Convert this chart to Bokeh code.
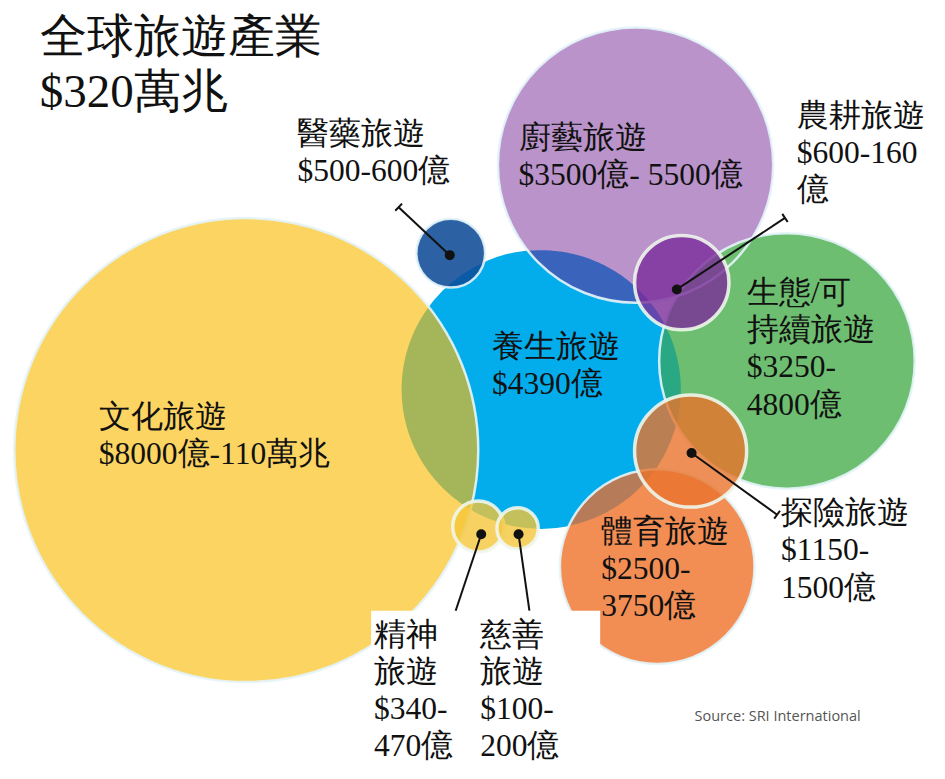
import numpy as np
from bokeh.plotting import figure
from bokeh.models import Range1d, ColumnDataSource
from bokeh.core.properties import value
from bokeh.embed import file_html
from bokeh.resources import INLINE

# ---------------- data ----------------
title_lines = ["全球旅遊產業", "$320萬兆"]
categories = ["文化旅遊", "養生旅遊", "廚藝旅遊", "生態/可持續旅遊", "體育旅遊",
              "醫藥旅遊", "農耕旅遊", "探險旅遊", "精神旅遊", "慈善旅遊"]
value_labels = ["$8000億-110萬兆", "$4390億", "$3500億- 5500億", "$3250-4800億",
                "$2500-3750億", "$500-600億", "$600-160億", "$1150-1500億",
                "$340-470億", "$100-200億"]
label_lines = [
    ["文化旅遊", "$8000億-110萬兆"],
    ["養生旅遊", "$4390億"],
    ["廚藝旅遊", "$3500億- 5500億"],
    ["生態/可", "持續旅遊", "$3250-", "4800億"],
    ["體育旅遊", "$2500-", "3750億"],
    ["醫藥旅遊", "$500-600億"],
    ["農耕旅遊", "$600-160", "億"],
    ["探險旅遊", "$1150-", "1500億"],
    ["精神", "旅遊", "$340-", "470億"],
    ["慈善", "旅遊", "$100-", "200億"],
]
source_note = "Source: SRI International"

# ---------------- layout (reference pixel space) ----------------
bub_x = [250, 550, 646, 800, 668, 458, 693, 702, 486, 526]
bub_y = [459, 397, 168, 368, 578, 258, 288, 460, 537, 539]
bub_r = [236, 142, 140, 130, 99, 35, 48, 57, 26, 21]
bub_color = ["#FCD462", "#03ADEC", "#B993C9", "#6DBE70", "#F28E54",
             "#2C62A3", "#7A2C9A", "#E8732C", "#F5C539", "#F5C539"]
bub_alpha = [1, 1, 1, 1, 1, 1, 0.8, 0.8, 0.8, 0.8]

label_x = [100, 500, 527, 759, 611, 302, 810, 794, 380, 488]
label_y = [425, 353, 140, 298, 542, 136, 117, 523, 647, 647]
pitch = 38

lead_dot = [(457, 260), (688, 295), (703, 462), (489, 545), (527, 545)]
lead_end = [(405, 211), (798, 222), (790, 525), (463, 623), (538, 623)]
lead_cap = [True, True, True, False, False]

lens_pairs = [(0, 1, "#A5B65A"), (2, 1, "#3A64BC"), (3, 1, "#29A883"),
              (4, 1, "#B67B59"), (5, 1, "#0A5AA6")]

FONT = value("Times New Roman")

W, H = 929, 763
p = figure(width=W, height=H, output_backend="svg", toolbar_location=None,
           x_range=Range1d(0, 945), y_range=Range1d(779, 0),
           x_axis_location=None, y_axis_location=None,
           min_border=0, outline_line_color=None, background_fill_color="white")
p.grid.visible = False


def lens(i, j, n=90):
    x1, y1, r1 = bub_x[i], bub_y[i], bub_r[i]
    x2, y2, r2 = bub_x[j], bub_y[j], bub_r[j]
    dx, dy = x2 - x1, y2 - y1
    d = np.hypot(dx, dy)
    a = (r1 ** 2 - r2 ** 2 + d ** 2) / (2 * d)
    th = np.arctan2(dy, dx)
    a1 = np.arccos(np.clip(a / r1, -1, 1))
    a2 = np.arccos(np.clip((d - a) / r2, -1, 1))
    t1 = np.linspace(th - a1, th + a1, n)
    t2 = np.linspace(th + np.pi - a2, th + np.pi + a2, n)
    xs = np.concatenate([x1 + r1 * np.cos(t1), x2 + r2 * np.cos(t2)])
    ys = np.concatenate([y1 + r1 * np.sin(t1), y2 + r2 * np.sin(t2)])
    return list(xs), list(ys)


order_big = [1, 0, 2, 3, 4, 5]
big = ColumnDataSource(dict(x=[bub_x[i] for i in order_big], y=[bub_y[i] for i in order_big],
                            r=[bub_r[i] for i in order_big], c=[bub_color[i] for i in order_big]))
p.circle("x", "y", radius="r", source=big, fill_color="c", line_color=None)

lx, ly, lc = [], [], []
for i, j, c in lens_pairs:
    xs, ys = lens(i, j)
    lx.append(xs); ly.append(ys); lc.append(c)
p.patches(lx, ly, fill_color=lc, line_color=None)

out_idx = [0, 2, 3, 4, 5]
p.circle([bub_x[i] for i in out_idx], [bub_y[i] for i in out_idx],
         radius=[bub_r[i] for i in out_idx], fill_color=None,
         line_color="#E4F4FA", line_width=2.5, line_alpha=0.9)

small_idx = [6, 7, 8, 9]
small = ColumnDataSource(dict(x=[bub_x[i] for i in small_idx], y=[bub_y[i] for i in small_idx],
                              r=[bub_r[i] for i in small_idx], c=[bub_color[i] for i in small_idx],
                              a=[bub_alpha[i] for i in small_idx]))
p.circle("x", "y", radius="r", source=small, fill_color="c", fill_alpha="a",
         line_color="#EEF6EC", line_width=3.5, line_alpha=0.9)

p.quad(left=[377], right=[610], top=[623], bottom=[800], fill_color="white", line_color=None)

seg_x0, seg_y0, seg_x1, seg_y1 = [], [], [], []
for (dx0, dy0), (ex, ey), cap in zip(lead_dot, lead_end, lead_cap):
    seg_x0.append(dx0); seg_y0.append(dy0); seg_x1.append(ex); seg_y1.append(ey)
    if cap:
        vx, vy = ex - dx0, ey - dy0
        L = np.hypot(vx, vy)
        nx, ny = -vy / L * 5, vx / L * 5
        seg_x0.append(ex - nx); seg_y0.append(ey - ny)
        seg_x1.append(ex + nx); seg_y1.append(ey + ny)
p.segment(seg_x0, seg_y0, seg_x1, seg_y1, line_color="#111111", line_width=2)
p.scatter([d[0] for d in lead_dot], [d[1] for d in lead_dot], size=10,
          fill_color="#111111", line_color=None)

tx, ty, tt = [], [], []
for lines, x0, y0 in zip(label_lines, label_x, label_y):
    for k, s in enumerate(lines):
        tx.append(x0); ty.append(y0 + k * pitch); tt.append(s)
p.text(tx, ty, text=tt, text_font=FONT, text_font_size="31.5px",
       text_baseline="middle", text_align="left", text_color="#111111")

p.text([40, 40], [36, 92], text=title_lines, text_font=FONT, text_font_size="47px",
       text_baseline="middle", text_align="left", text_color="#111111")

p.text([706], [730], text=[source_note], text_font=value("Open Sans"), text_font_size="14.5px",
       text_baseline="middle", text_align="left", text_color="#555555")

open("out.html", "w").write(file_html(p, INLINE))
